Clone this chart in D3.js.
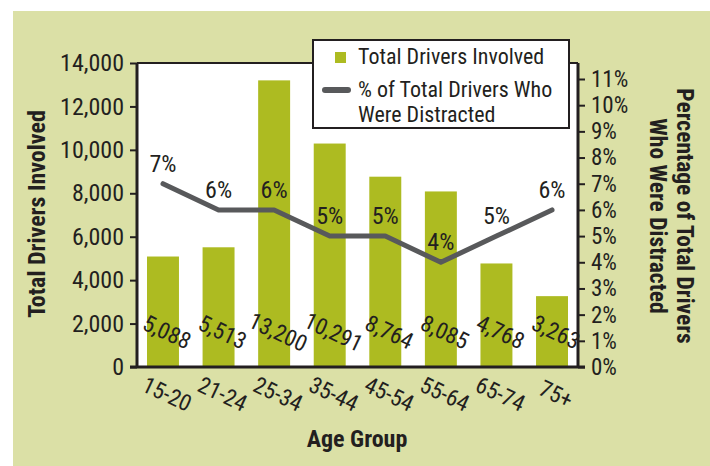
<!DOCTYPE html>
<html>
<head>
<meta charset="utf-8">
<script src="https://cdn.jsdelivr.net/npm/d3@7/dist/d3.min.js"></script>
<style>
  body { margin: 0; background: #fff; }
  svg { display: block; font-family: "Liberation Sans Narrow", "Roboto Condensed", "Liberation Sans", sans-serif; }
</style>
</head>
<body>
<script>
"use strict";

const ageGroups = ["15-20", "21-24", "25-34", "35-44", "45-54", "55-64", "65-74", "75+"];
const totalDrivers = [5088, 5513, 13200, 10291, 8764, 8085, 4768, 3263];
const pctDistracted = [7, 6, 6, 5, 5, 4, 5, 6];
const leftTicks = [0, 2000, 4000, 6000, 8000, 10000, 12000, 14000];
const rightTicks = [0, 1, 2, 3, 4, 5, 6, 7, 8, 9, 10, 11];

const wSvg = 710, hSvg = 466;
const x0 = 137, x1 = 578, yTop = 63, yBot = 367;
const barColor = "#adbb21", lineColor = "#58595b", ink = "#231f20";

let svg = d3.select("body").append("svg")
    .attr("width", wSvg).attr("height", hSvg);

svg.append("rect")
    .attr("x", 13).attr("y", 11)
    .attr("width", wSvg - 13).attr("height", hSvg - 11)
    .attr("fill", "#dbe0a6");

svg.append("rect")
    .attr("x", x0).attr("y", yTop)
    .attr("width", x1 - x0).attr("height", yBot - yTop)
    .attr("fill", "#fff");

let xScale = d3.scaleBand()
    .domain(ageGroups)
    .range([x0, x1])
    .paddingInner(.425)
    .paddingOuter(.18);

let yScale = d3.scaleLinear()
    .domain([0, 14000])
    .range([yBot, yTop]);

let pScale = d3.scaleLinear()
    .domain([0, 11])
    .range([yBot, 79]);

// bars
svg.append("g").selectAll("rect")
    .data(totalDrivers)
    .enter()
    .append("rect")
    .attr("x", (d, i) => xScale(ageGroups[i]))
    .attr("y", d => yScale(d))
    .attr("width", xScale.bandwidth())
    .attr("height", d => yBot - yScale(d))
    .attr("fill", barColor);

// line
let cx = i => xScale(ageGroups[i]) + xScale.bandwidth() / 2;
let line = d3.line()
    .x((d, i) => cx(i))
    .y(d => pScale(d));

svg.append("path")
    .datum(pctDistracted)
    .attr("d", line)
    .attr("fill", "none")
    .attr("stroke", lineColor)
    .attr("stroke-width", 5)
    .attr("stroke-linejoin", "round")
    .attr("stroke-linecap", "round");

svg.append("g").selectAll("text")
    .data(pctDistracted)
    .enter()
    .append("text")
    .attr("x", (d, i) => cx(i))
    .attr("y", d => pScale(d) - 12)
    .attr("text-anchor", "middle")
    .attr("font-size", 24)
    .attr("fill", ink)
    .text(d => d + "%");

// value labels
svg.append("g").selectAll("text")
    .data(totalDrivers)
    .enter()
    .append("text")
    .attr("transform", (d, i) => `translate(${cx(i) + 4}, ${332}) rotate(25)`)
    .attr("text-anchor", "middle")
    .attr("dy", "0.35em")
    .attr("font-size", 23)
    .attr("fill", ink)
    .text(d => d3.format(",")(d));

// axes
let leftAxis = d3.axisLeft(yScale)
    .tickValues(leftTicks)
    .tickFormat(d3.format(","))
    .tickSize(7).tickPadding(6);
let gLeft = svg.append("g")
    .attr("transform", `translate(${x0}, 0)`)
    .call(leftAxis);
gLeft.selectAll("text").attr("font-size", 24).attr("fill", ink);

let rightAxis = d3.axisRight(pScale)
    .tickValues(rightTicks)
    .tickFormat(d => d + "%")
    .tickSize(7).tickPadding(6);
let gRight = svg.append("g")
    .attr("transform", `translate(${x1}, 0)`)
    .call(rightAxis);
gRight.selectAll("text").attr("font-size", 23).attr("fill", ink);

let bottomAxis = d3.axisBottom(xScale).tickSize(0).tickPadding(0);
let gBottom = svg.append("g")
    .attr("transform", `translate(0, ${yBot})`)
    .call(bottomAxis);
gBottom.selectAll("text")
    .attr("font-size", 23)
    .attr("fill", ink)
    .attr("text-anchor", "middle")
    .attr("dy", "0.35em")
    .attr("y", 0)
    .attr("transform", d => `translate(4, 27) rotate(25)`);

[gLeft, gRight, gBottom].forEach(g => {
    g.selectAll(".domain").attr("stroke", ink).attr("stroke-width", 3);
    g.selectAll(".tick line").attr("stroke", ink).attr("stroke-width", 2);
    g.attr("font-family", null);
});
gLeft.select(".domain").attr("d", `M0,${yTop}V${yBot}`);
gRight.select(".domain").attr("d", `M0,${yTop}V${yBot}`);
gBottom.select(".domain").attr("d", `M${x0 - 7},0H${x1 + 7}`);

svg.append("line")
    .attr("x1", x0).attr("x2", x1)
    .attr("y1", yTop).attr("y2", yTop)
    .attr("stroke", ink).attr("stroke-width", 2);

// axis titles
svg.append("text")
    .attr("transform", `translate(45, 214) rotate(-90)`)
    .attr("text-anchor", "middle")
    .attr("font-size", 24).attr("font-weight", "bold")
    .attr("fill", ink)
    .text("Total Drivers Involved");

let rTitle = svg.append("text")
    .attr("transform", `translate(677, 216) rotate(90)`)
    .attr("text-anchor", "middle")
    .attr("font-size", 23.5).attr("font-weight", "bold")
    .attr("fill", ink);
rTitle.append("tspan").attr("x", 0).attr("y", 0).text("Percentage of Total Drivers");
rTitle.append("tspan").attr("x", 0).attr("y", 27).text("Who Were Distracted");

svg.append("text")
    .attr("x", 357).attr("y", 447)
    .attr("text-anchor", "middle")
    .attr("font-size", 24).attr("font-weight", "bold")
    .attr("fill", ink)
    .text("Age Group");

// legend
let legend = svg.append("g");
legend.append("rect")
    .attr("x", 313).attr("y", 40)
    .attr("width", 256).attr("height", 88)
    .attr("fill", "#fff")
    .attr("stroke", ink).attr("stroke-width", 2);
legend.append("rect")
    .attr("x", 335).attr("y", 52)
    .attr("width", 11).attr("height", 11)
    .attr("fill", barColor);
legend.append("line")
    .attr("x1", 325).attr("x2", 348)
    .attr("y1", 90).attr("y2", 90)
    .attr("stroke", lineColor).attr("stroke-width", 6)
    .attr("stroke-linecap", "round");
legend.append("text")
    .attr("x", 358).attr("y", 64)
    .attr("font-size", 22).attr("fill", ink)
    .text("Total Drivers Involved");
legend.append("text")
    .attr("x", 358).attr("y", 97)
    .attr("font-size", 22).attr("fill", ink)
    .text("% of Total Drivers Who");
legend.append("text")
    .attr("x", 358).attr("y", 122)
    .attr("font-size", 22).attr("fill", ink)
    .text("Were Distracted");
</script>
</body>
</html>
